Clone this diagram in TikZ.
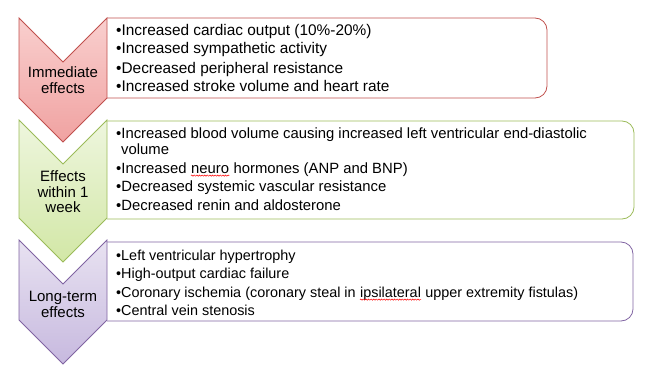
\documentclass[tikz,border=0pt]{standalone}
\usepackage{fontspec}
\setmainfont{Liberation Sans}
\usetikzlibrary{decorations.pathmorphing}
\definecolor{redline}{HTML}{C0504D}
\definecolor{greenline}{HTML}{9BBB59}
\definecolor{purpline}{HTML}{8064A2}
\definecolor{redtop}{HTML}{F9CFCE}
\definecolor{redbot}{HTML}{F0A2A1}
\definecolor{greentop}{HTML}{EEF6DE}
\definecolor{greenbot}{HTML}{D2E7A6}
\definecolor{purptop}{HTML}{E8E2F1}
\definecolor{purpbot}{HTML}{C7B9DF}
\begin{document}
\begin{tikzpicture}[x=1pt,y=-1pt,
  txta/.style={inner sep=0pt, anchor=base west, font=\fontsize{15.4}{16}\selectfont},
  txtb/.style={inner sep=0pt, anchor=base west, font=\fontsize{14.85}{16}\selectfont},
  txtc/.style={inner sep=0pt, anchor=base west, font=\fontsize{14.4}{16}\selectfont},
  ctxt/.style={inner sep=0pt, anchor=base, font=\fontsize{15}{16}\selectfont},
  boxline/.style={line width=0.8pt, rounded corners=12pt},
  chevshape/.style={line width=0.8pt, line join=miter},
  spell/.style={draw=red, line width=0.5pt, decorate,
    decoration={snake, amplitude=0.6pt, segment length=2.6pt}}
]
\useasboundingbox (0,0) rectangle (671,369);

% boxes
\draw[boxline, draw=redline] (107,18) -- (547,18) -- (547,98) -- (107,98);
\draw[boxline, draw=greenline] (107,121) -- (634,121) -- (634,219) -- (107,219);
\draw[boxline, draw=purpline] (107,242) -- (633,242) -- (633,321) -- (107,321);

% chevrons
\draw[chevshape, draw=redline, top color=redtop, bottom color=redbot]
  (19,18) -- (63,62) -- (107,18) -- (107,98) -- (63,142) -- (19,98) -- cycle;
\draw[chevshape, draw=greenline, top color=greentop, bottom color=greenbot]
  (19,120) -- (63,164) -- (107,120) -- (107,218) -- (63,262) -- (19,218) -- cycle;
\draw[chevshape, draw=purpline, top color=purptop, bottom color=purpbot]
  (19,240) -- (63,284) -- (107,240) -- (107,320) -- (63,364) -- (19,320) -- cycle;

% chevron labels
\node[ctxt] (c1a) at (63,77) {Immediate};
\node[ctxt] (c1b) at (63,93) {effects};
\node[ctxt] (c2a) at (63,181) {Effects};
\node[ctxt] (c2b) at (63,197) {within 1};
\node[ctxt] (c2c) at (63,212) {week};
\node[ctxt] (c3a) at (63,301) {Long-term};
\node[ctxt] (c3b) at (63,317) {effects};

% box 1
\node[txta] (b1a) at (116,36) {•Increased cardiac output (10\%-20\%)};
\node[txta] (b1b) at (116,54) {•Increased sympathetic activity};
\node[txta] (b1c) at (116,73) {•Decreased peripheral resistance};
\node[txta] (b1d) at (116,91) {•Increased stroke volume and heart rate};

% box 2
\node[txtb] (b2a) at (116,138) {•Increased blood volume causing increased left ventricular end-diastolic};
\node[txtb] (b2b) at (121,154) {volume};
\node[txtb] (b2c1) at (116,173) {•Increased};
\node[txtb] (b2c2) at ([xshift=4.1pt]b2c1.base east) {neuro};
\node[txtb] (b2c3) at ([xshift=4.1pt]b2c2.base east) {hormones (ANP and BNP)};
\node[txtb] (b2d) at (116,191) {•Decreased systemic vascular resistance};
\node[txtb] (b2e) at (116,210) {•Decreased renin and aldosterone};
\draw[spell] ([yshift=-2.6pt]b2c2.base west) -- ([yshift=-2.6pt]b2c2.base east);

% box 3
\node[txtc] (b3a) at (116,260) {•Left ventricular hypertrophy};
\node[txtc] (b3b) at (116,278) {•High-output cardiac failure};
\node[txtc] (b3c1) at (116,297) {•Coronary ischemia (coronary steal in};
\node[txtc] (b3c2) at ([xshift=4pt]b3c1.base east) {ipsilateral};
\node[txtc] (b3c3) at ([xshift=4pt]b3c2.base east) {upper extremity fistulas)};
\node[txtc] (b3d) at (116,315) {•Central vein stenosis};
\draw[spell] ([yshift=-2.6pt]b3c2.base west) -- ([yshift=-2.6pt]b3c2.base east);
\end{tikzpicture}
\end{document}
